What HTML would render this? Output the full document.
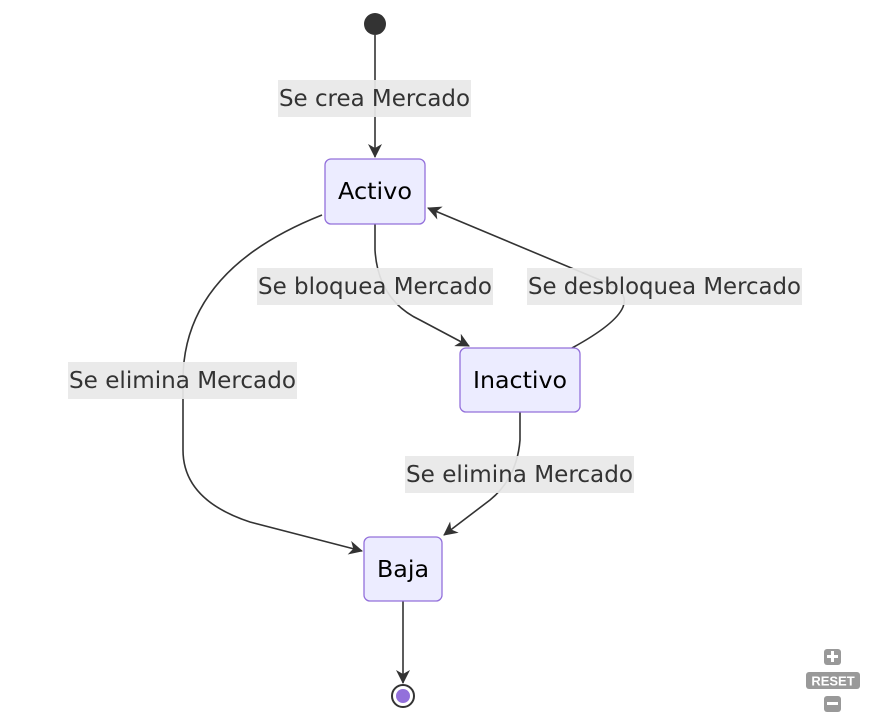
<!DOCTYPE html>
<html><head><style>
body{margin:0;background:#fff;}
svg{display:block;font-family:"DejaVu Sans","Liberation Sans",sans-serif;}
</style></head><body>
<svg width="871" height="721" viewBox="0 0 871 721">
<defs>
<marker id="a" viewBox="0 0 14 14" refX="13" refY="7" markerWidth="14" markerHeight="14" orient="auto" markerUnits="userSpaceOnUse">
<path d="M0,0 L14,7 L0,14 L4,7 z" fill="#333"/></marker>
</defs>
<g fill="none" stroke="#333" stroke-width="1.6">
<path d="M375,35 L375,157" marker-end="url(#a)"/>
<path d="M375,224 L375,250 Q378,300 420,320 L469,346" marker-end="url(#a)"/>
<path d="M572,348 Q660,300 600,280 L428,208" marker-end="url(#a)"/>
<path d="M322,215 Q183,270 183,380 L183,450 Q183,500 250,522 L362,551" marker-end="url(#a)"/>
<path d="M520,412 L520,440 Q517,478 490,500 L444,535" marker-end="url(#a)"/>
<path d="M403,601 L403,683" marker-end="url(#a)"/>
</g>
<circle cx="375" cy="24" r="11" fill="#333"/>
<circle cx="403" cy="696" r="11" fill="#fff" stroke="#333" stroke-width="2"/>
<circle cx="403" cy="696" r="7" fill="#9370db"/>
<g fill="rgba(232,232,232,0.93)">
<rect x="278" y="80" width="193" height="37"/>
<rect x="257" y="268" width="236" height="37"/>
<rect x="527" y="268" width="275" height="37"/>
<rect x="68" y="362" width="229" height="37"/>
<rect x="405" y="456" width="229" height="37"/>
</g>
<g font-size="23" fill="#333" text-anchor="middle">
<text x="374.5" y="106" textLength="191" lengthAdjust="spacingAndGlyphs">Se crea Mercado</text>
<text x="375" y="294" textLength="234" lengthAdjust="spacingAndGlyphs">Se bloquea Mercado</text>
<text x="664.5" y="294" textLength="273" lengthAdjust="spacingAndGlyphs">Se desbloquea Mercado</text>
<text x="182.5" y="388" textLength="227" lengthAdjust="spacingAndGlyphs">Se elimina Mercado</text>
<text x="519.5" y="482" textLength="227" lengthAdjust="spacingAndGlyphs">Se elimina Mercado</text>
</g>
<g fill="#ececff" stroke="#9370db" stroke-width="1.3">
<rect x="325" y="159" width="100" height="65" rx="6"/>
<rect x="460" y="348" width="120" height="64" rx="6"/>
<rect x="364" y="537" width="78" height="64" rx="6"/>
</g>
<g font-size="23" fill="#000" text-anchor="middle">
<text x="375" y="199" textLength="74" lengthAdjust="spacingAndGlyphs">Activo</text>
<text x="520" y="388" textLength="94" lengthAdjust="spacingAndGlyphs">Inactivo</text>
<text x="403" y="577" textLength="52" lengthAdjust="spacingAndGlyphs">Baja</text>
</g>
<g fill="#999">
<rect x="824" y="649" width="17" height="16" rx="3"/>
<rect x="806" y="672" width="54" height="17" rx="3"/>
<rect x="824" y="696" width="17" height="16" rx="3"/>
</g>
<g fill="#fff">
<rect x="827" y="655" width="11" height="3"/><rect x="831" y="651" width="3" height="11"/>
<rect x="827" y="702" width="11" height="3"/>
<text x="833" y="685.5" font-size="13" font-weight="bold" text-anchor="middle" font-family="Liberation Sans">RESET</text>
</g>
</svg>
</body></html>
